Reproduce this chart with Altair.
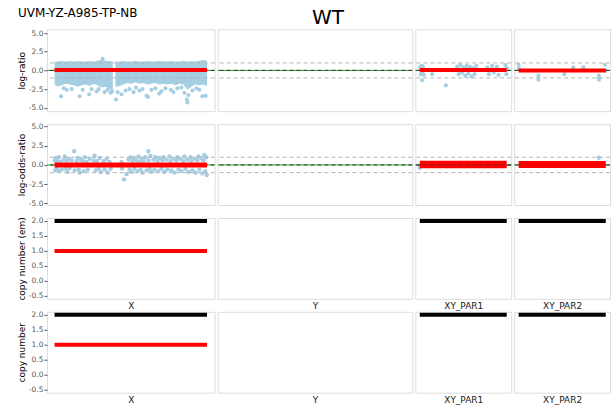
import altair as alt
import pandas as pd

# ---------------- data ----------------
CHROMS = ["X", "Y", "XY_PAR1", "XY_PAR2"]
ROW_TITLES = ["log-ratio", "log-odds-ratio", "copy number (em)", "copy number"]
ROW_TICKS = [[-5.0, -2.5, 0.0, 2.5, 5.0], [-5.0, -2.5, 0.0, 2.5, 5.0],
             [-0.5, 0.0, 0.5, 1.0, 1.5, 2.0], [-0.5, 0.0, 0.5, 1.0, 1.5, 2.0]]
ROW_DOMAINS = [[-5.45, 5.5], [-5.2, 5.3], [-0.6, 2.1], [-0.6, 2.1]]
CHROM_DOMAINS = {"X": [-4.87, 163.35], "Y": [-2.9, 60.2],
                 "XY_PAR1": [-0.12, 2.90], "XY_PAR2": [155.684, 156.047]}
REF_CENTER = [0.0]
REF_BOUNDS = [-1.0, 1.0]

# log-ratio, chromosome X: dense core of the cloud (envelope, Mb)
LR_BAND_MB = [2.8, 6, 10, 14, 18, 22, 26, 30, 34, 38, 42, 46, 50, 54, 58, 61.2,
              63.8, 68, 72, 76, 80, 84, 88, 92, 96, 100, 104, 108, 112, 116, 120,
              124, 128, 132, 136, 140, 144, 148, 152, 155.7]
LR_BAND_PART = ["p"] * 16 + ["q"] * 24
LR_BAND_HI = [1.15, 1.2, 1.25, 1.2, 1.25, 1.2, 1.25, 1.2, 1.2, 1.25, 1.2, 1.3, 1.45, 1.3, 1.25, 1.2,
              1.15, 1.2, 1.25, 1.2, 1.2, 1.25, 1.2, 1.2, 1.25, 1.2, 1.2, 1.25, 1.2, 1.2, 1.25,
              1.2, 1.2, 1.25, 1.2, 1.25, 1.2, 1.3, 1.4, 1.3]
LR_BAND_LO = [-1.9, -2.2, -2.0, -1.8, -1.9, -2.0, -2.2, -2.0, -1.9, -2.1, -1.8, -2.0, -2.3, -2.2, -2.5, -2.8,
              -2.2, -2.1, -1.9, -1.7, -1.8, -1.6, -1.8, -1.7, -1.9, -1.8, -1.7, -1.9, -1.8, -1.9, -1.8,
              -2.0, -1.8, -1.9, -2.6, -2.2, -1.9, -2.0, -1.9, -2.1]
# log-ratio, individual bins outside the core
LR_X_MB = [9.3, 12, 15, 20, 27.9, 31, 37.5, 40, 45, 47, 51, 53, 56, 59, 60.5,
           64.5, 66, 70, 74, 78, 82, 84.5, 88, 91, 95, 96.5, 100, 104, 107.8, 110,
           114, 119.4, 122, 126, 130, 133, 135.5, 136, 137, 141, 145, 148, 151, 154.4]
LR_X_VAL = [-3.45, -2.4, -2.6, -2.5, -3.45, -2.6, -3.2, -2.5, -2.8, -2.5, 1.55, -2.9, -2.6, -3.0, -2.8,
            -3.9, -2.9, -3.2, -2.7, -2.5, -2.9, -2.3, -2.7, -2.5, -3.4, -3.55, -2.6, -2.4, -3.1, -2.8,
            -2.4, -2.6, -2.9, -2.4, -2.3, -3.0, -3.9, -4.3, -3.3, -2.7, -2.4, -2.6, -3.45, -3.4]
LR_PAR1_MB = [0.03, 0.05, 0.08, 0.1, 0.12, 0.15, 0.095, 0.41, 0.84,
              1.2, 1.25, 1.3, 1.35, 1.4, 1.45, 1.5, 1.55, 1.6, 1.65, 1.7, 1.75, 1.8,
              2.15, 2.2, 2.3, 2.35, 2.45, 2.5, 2.72, 2.75, 2.76]
LR_PAR1_VAL = [0.4, -0.5, 0.6, -0.3, 0.5, -0.6, -1.33, -0.5, -2.0,
               0.5, -0.5, 0.7, -0.3, 0.4, -0.7, 0.6, -0.4, 0.5, -0.8, 0.3, -0.5, 0.6,
               0.4, -0.5, 0.6, -0.3, 0.5, -0.6, 0.7, -0.5, 0.3]
LR_PAR2_MB = [155.701, 155.702, 155.776, 155.776, 155.874, 155.908, 155.946,
              156.005, 156.005, 156.004, 156.028, 156.03]
LR_PAR2_VAL = [0.76, 0.3, -1.24, -0.7, -0.5, 0.4, 0.4, -0.7, -1.24, -1.0, 0.76, 0.0]

# log-odds-ratio bins
LOR_X_MB = [3, 3.5, 4, 5, 6, 7, 7.5, 9, 10, 12, 13, 14, 15, 16, 17, 18, 20, 22.4, 23, 25,
            26, 27, 28, 29, 31, 32, 33, 35, 36, 38, 42, 43, 44, 45, 47, 48, 49, 52, 53, 55,
            56, 58, 59, 70, 70.5, 72.4, 75,
            77, 78, 79, 80, 81, 82, 83, 85, 86, 87, 88, 89, 90, 91, 92, 94, 95, 96.8, 97, 98,
            99, 100, 102, 103, 104, 106, 107, 108, 110, 111, 112, 113, 115, 116, 118, 119, 120,
            122, 123, 125, 126, 127, 129, 130, 132, 133, 134, 136, 137, 139, 140, 141, 143,
            144, 146, 147, 148, 150, 151, 152, 153, 154, 155, 155.5]
LOR_X_VAL = [0.6, -0.7, 0.9, -0.5, 0.5, 1.0, -0.8, 0.4, -0.6, 0.7, 1.1, -0.5, 0.5, -0.9, 0.8, -0.4, 0.6, 1.78, -0.7, 0.5,
             0.9, -0.6, -1.0, 0.7, 0.5, -0.8, 1.0, 0.4, -0.6, 0.8, 0.6, 1.2, -0.7, 0.5, -0.5, 0.9, -0.9, 0.5, -0.6, 0.8,
             -1.0, 0.4, -0.5, 0.4, -0.45, -1.87, -1.2,
             0.7, -0.6, 1.0, -0.9, 0.5, 0.9, -0.5, 0.6, -0.8, 1.1, 0.4, -0.6, 0.8, -1.0, 0.5, 1.0, -0.7, 1.78, 0.6, -0.5,
             1.2, -0.9, 0.7, -0.6, 1.0, 0.5, -0.8, 0.9, -0.5, 0.6, 1.0, -0.9, 0.7, -0.6, 1.1, 0.5, -0.7,
             0.8, -1.0, 0.6, 1.0, -0.6, 0.8, -0.8, 0.5, 1.1, -0.5, 0.7, -0.9, 1.0, 0.5, -0.7, 0.8,
             -1.0, 0.6, 1.1, -0.6, 0.9, -1.1, 0.6, 1.3, -0.8, 1.0, -1.3]
LOR_PAR1_MB = [0.02]
LOR_PAR1_VAL = [-0.36]
LOR_PAR2_MB = [156.005]
LOR_PAR2_VAL = [0.93]

# segments: row, chromosome, start, end, value, kind
SEG_ROW = [0, 0, 0, 1, 1, 1, 2, 2, 2, 2, 3, 3, 3, 3]
SEG_CHROM = ["X", "XY_PAR1", "XY_PAR2", "X", "XY_PAR1", "XY_PAR2",
             "X", "X", "XY_PAR1", "XY_PAR2", "X", "X", "XY_PAR1", "XY_PAR2"]
SEG_START = [2.78, 0.02, 155.701, 2.78, 0.02, 155.701,
             2.78, 2.78, 0.02, 155.701, 2.78, 2.78, 0.02, 155.701]
SEG_END = [155.7, 2.76, 156.031, 155.7, 2.76, 156.031,
           155.7, 155.7, 2.76, 156.031, 155.7, 155.7, 2.76, 156.031]
SEG_VALUE = [0.05, 0.05, 0.0, 0.0, 0.05, 0.05, 2.0, 1.0, 2.0, 2.0, 2.0, 1.0, 2.0, 2.0]
SEG_KIND = ["mean", "mean", "mean", "mean", "mean", "mean",
            "total", "minor", "total", "total", "total", "minor", "total", "total"]

# ---------------- styles ----------------
FONT = "DejaVu Sans"
BLUE = "#a6cee3"
KIND_COLOR = {"mean": "#ff0000", "total": "#000000", "minor": "#ff0000"}
PANEL_WIDTH = {"X": 168, "Y": 195, "XY_PAR1": 96, "XY_PAR2": 96}
ROW_HEIGHT = [82, 81, 81, 81]
SEG_WIDTH = {(1, "XY_PAR1"): 7.5, (1, "XY_PAR2"): 7, (1, "X"): 5}

band = pd.DataFrame({"mb": LR_BAND_MB, "hi": LR_BAND_HI, "lo": LR_BAND_LO, "part": LR_BAND_PART})
points = {
    (0, "X"): (LR_X_MB, LR_X_VAL),
    (0, "XY_PAR1"): (LR_PAR1_MB, LR_PAR1_VAL),
    (0, "XY_PAR2"): (LR_PAR2_MB, LR_PAR2_VAL),
    (1, "X"): (LOR_X_MB, LOR_X_VAL),
    (1, "XY_PAR1"): (LOR_PAR1_MB, LOR_PAR1_VAL),
    (1, "XY_PAR2"): (LOR_PAR2_MB, LOR_PAR2_VAL),
}
segs = pd.DataFrame({"row": SEG_ROW, "chrom": SEG_CHROM, "start": SEG_START,
                     "end": SEG_END, "value": SEG_VALUE, "kind": SEG_KIND})


def y_enc(field, r, c):
    if c == 0:
        axis = alt.Axis(title=ROW_TITLES[r], values=ROW_TICKS[r], grid=False, domain=False,
                        labelExpr="replace(format(datum.value, '.1f'), '\u2212', '-')",
                        tickColor="#555555", tickSize=3, labelColor="#555555", labelFontSize=7.5,
                        labelPadding=1, titleFontSize=9, titleFontWeight="normal",
                        titleColor="#000000", titlePadding=2, labelFont=FONT, titleFont=FONT)
    else:
        axis = None
    return alt.Y(f"{field}:Q", scale=alt.Scale(domain=ROW_DOMAINS[r], nice=False, zero=False), axis=axis)


def x_enc(field, r, chrom):
    if r >= 2:
        axis = alt.Axis(title=chrom, labels=False, ticks=False, domain=False, grid=False,
                        titlePadding=3, titleFontSize=9, titleFontWeight="normal",
                        titleColor="#1a1a1a", titleFont=FONT)
    else:
        axis = None
    return alt.X(f"{field}:Q", scale=alt.Scale(domain=CHROM_DOMAINS[chrom], nice=False, zero=False), axis=axis)


def panel(r, c, chrom):
    layers = []
    if r == 0 and chrom == "X":
        layers.append(alt.Chart(band).mark_area(color=BLUE, opacity=1).encode(
            x=x_enc("mb", r, chrom), y=y_enc("hi", r, c), y2="lo:Q", detail="part:N"))
    if (r, chrom) in points:
        mb, val = points[(r, chrom)]
        df = pd.DataFrame({"mb": mb, "val": val})
        layers.append(alt.Chart(df).mark_circle(color=BLUE, opacity=1, size=17 if r == 0 else 19).encode(
            x=x_enc("mb", r, chrom), y=y_enc("val", r, c)))
    if r < 2:
        layers.append(alt.Chart(pd.DataFrame({"v": REF_CENTER})).mark_rule(color="#1fae1f", strokeWidth=1).encode(
            y=y_enc("v", r, c)))
        layers.append(alt.Chart(pd.DataFrame({"v": REF_BOUNDS})).mark_rule(
            color="#b5b5b5", strokeWidth=1, strokeDash=[4, 3]).encode(y=y_enc("v", r, c)))
        layers.append(alt.Chart(pd.DataFrame({"v": REF_CENTER})).mark_rule(
            color="#333333", strokeWidth=1, strokeDash=[4, 3]).encode(y=y_enc("v", r, c)))
    sub = segs[(segs["row"] == r) & (segs["chrom"] == chrom)]
    width = SEG_WIDTH.get((r, chrom), 4)
    if len(sub) == 0:
        if r >= 2:
            empty = pd.DataFrame({"start": [], "end": [], "value": []})
            layers.append(alt.Chart(empty).mark_rule().encode(
                x=x_enc("start", r, chrom), x2="end:Q", y=y_enc("value", r, c)))
    else:
        for kind in ["total", "minor", "mean"]:
            part = sub[sub["kind"] == kind]
            if len(part):
                layers.append(alt.Chart(part).mark_rule(color=KIND_COLOR[kind], strokeWidth=width, strokeCap="butt").encode(
                    x=x_enc("start", r, chrom), x2="end:Q", y=y_enc("value", r, c)))
    if r == 1 and chrom == "XY_PAR1":
        layers.append(alt.Chart(pd.DataFrame({"v": REF_CENTER})).mark_rule(
            color="#333333", strokeWidth=1, strokeDash=[4, 3], opacity=0.7).encode(y=y_enc("v", r, c)))
    props = dict(width=PANEL_WIDTH[chrom], height=ROW_HEIGHT[r])
    if r == 0 and chrom == "X":
        props["title"] = alt.TitleParams("UVM-YZ-A985-TP-NB", anchor="start", frame="group", dx=-29,
                                         offset=0, baseline="alphabetic", fontSize=12, fontWeight="normal",
                                         font=FONT, color="#000000")
    if r == 0 and chrom == "Y":
        props["title"] = alt.TitleParams("WT", anchor="middle", frame="group", dx=13, offset=-15,
                                         baseline="alphabetic", fontSize=20, fontWeight="normal",
                                         font=FONT, color="#000000")
    return alt.layer(*layers).properties(**props)


panels = [panel(r, c, ch) for r in range(4) for c, ch in enumerate(CHROMS)]

chart = alt.concat(
    *panels, columns=4, spacing={"row": 13, "column": 3}, bounds="flush", align="each"
).resolve_scale(
    x="independent", y="independent"
).properties(
    padding={"left": 16, "top": 6, "right": 0, "bottom": 0}
).configure_view(
    stroke="#999999", strokeWidth=1
).configure(
    font=FONT, background="white"
)

chart.save("out.html", embed_options={"renderer": "svg", "actions": False})
